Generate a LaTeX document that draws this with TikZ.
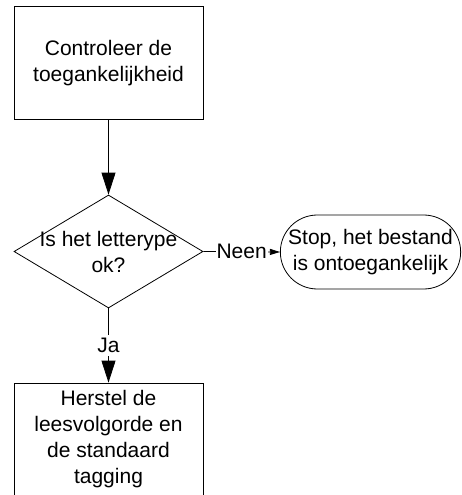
\documentclass[tikz,border=0pt]{standalone}
\usepackage{fontspec}
\setmainfont{Liberation Sans}
\usetikzlibrary{shapes.geometric,shapes.misc,arrows.meta}
\begin{document}
\begin{tikzpicture}[x=1pt,y=-1pt,
  every node/.style={font=\fontsize{21}{26}\selectfont},
  boxnode/.style={draw,line width=0.8pt,rectangle,minimum width=189pt,minimum height=113pt,align=center,inner sep=0pt},
  decnode/.style={draw,line width=0.8pt,diamond,minimum width=189pt,minimum height=113pt,inner sep=0pt},
  termnode/.style={draw,line width=0.8pt,rounded rectangle,minimum width=179pt,minimum height=74pt,align=center,inner sep=0pt},
  bigarrow/.style={line width=0.8pt,-{Triangle[length=22pt,width=14pt]}},
  smallarrow/.style={line width=0.8pt,-{Triangle[length=10pt,width=6pt]}},
  lbl/.style={fill=white,inner xsep=1pt,inner ysep=3pt}]
\useasboundingbox (0,0) rectangle (462,495);
\clip (0,0) rectangle (462,495);
\node[boxnode] (top) at (108.5,63) {Controleer de\\toegankelijkheid};
\node[decnode] (dec) at (108.5,251.5) {};
\node[align=center] (dectext) at (dec.center) {Is het letterype\\ok?};
\node[termnode] (stop) at (370.5,252) {Stop, het bestand\\is ontoegankelijk};
\node[boxnode] (fix) at (108.5,439.5) {Herstel de\\leesvolgorde en\\de standaard\\tagging};
\draw[bigarrow] (top) -- (dec.north);
\draw[smallarrow] (dec.east) -- node[lbl] (neen) {Neen} (stop.west);
\draw[bigarrow] (dec.south) -- node[lbl] (ja) {Ja} (fix.north);
\end{tikzpicture}
\end{document}
